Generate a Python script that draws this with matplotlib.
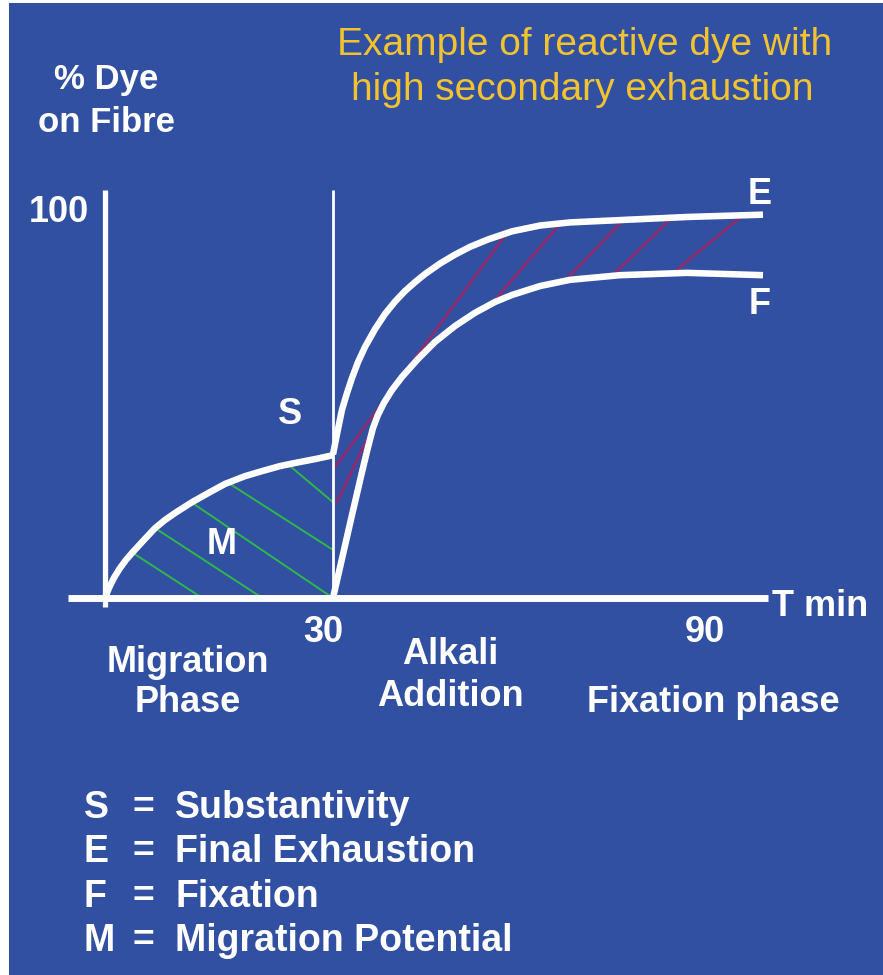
import numpy as np
import matplotlib
matplotlib.use('Agg')
import matplotlib.pyplot as plt
from matplotlib.patches import Rectangle

plt.rcParams['font.family'] = ['Liberation Sans', 'DejaVu Sans']

# time (min) vs % dye on fibre
mig_t = [0, 0.53, 1.18, 1.97, 2.76, 3.55, 5.0, 6.58, 7.89, 9.21, 11.45, 13.82,
         15.79, 18.42, 20.66, 23.03, 25.0, 27.63, 30.0]
mig_y = [0, 2.6, 5.2, 7.7, 9.8, 11.6, 14.7, 18.0, 20.1, 21.9, 24.7, 27.3,
         29.4, 31.4, 32.7, 34.0, 34.8, 35.8, 36.8]

exh_t = [30.0, 30.53, 31.18, 31.84, 32.5, 33.29, 34.21, 35.53, 36.84, 38.16, 39.47,
         40.79, 42.11, 44.08, 46.05, 48.03, 50.39, 53.55, 57.24, 61.18, 67.76,
         76.58, 86.58]
exh_y = [37.0, 42.3, 48.5, 52.8, 56.7, 60.8, 64.7, 69.3, 73.2, 76.4, 79.1,
         81.4, 83.5, 86.2, 88.5, 90.5, 92.4, 94.5, 96.0, 96.8, 97.4,
         98.2, 98.8]

fix_t = [30.0, 32.5, 33.82, 34.61, 35.26, 35.92, 36.71, 37.76, 39.08, 41.18, 43.42,
         46.05, 48.68, 51.32, 53.55, 57.24, 61.18, 67.76, 76.58, 86.58]
fix_y = [0, 21.4, 32.5, 38.9, 43.8, 47.2, 50.3, 53.6, 57.0, 61.6, 66.0,
         70.1, 73.5, 76.3, 78.1, 80.4, 82.0, 83.2, 83.8, 83.2]

# green hatching (migration potential M)
mh_t0 = [3.6, 6.6, 11.4, 16.2, 24.1]
mh_y0 = [11.7, 18.0, 24.6, 29.7, 34.4]
mh_t1 = [12.8, 20.7, 30.0, 30.0, 30.0]
mh_y1 = [0, 0, 0, 12.4, 24.7]

# purple hatching between E and F
fh_t0 = [30.3, 30.5, 50.9, 60.5, 66.7, 74.7]
fh_y0 = [33.8, 24.7, 75.9, 81.7, 83.0, 83.7]
fh_t1 = [52.9, 35.5, 59.9, 68.2, 74.6, 83.9]
fh_y1 = [94.1, 45.0, 96.5, 97.4, 98.0, 98.6]

legend_keys = ['S', 'E', 'F', 'M']
legend_names = ['Substantivity', 'Final Exhaustion', 'Fixation', 'Migration Potential']

W, H = 883, 975
bg = '#3150A2'
gold = '#F2C230'

fig = plt.figure(figsize=(W / 100, H / 100), dpi=100)
fig.patch.set_facecolor('white')
fig.patches.append(Rectangle((9 / W, 0), 1, 1 - 3 / H, transform=fig.transFigure,
                             facecolor=bg, edgecolor='none', zorder=-10))

ax = fig.add_axes([0, 0, 1, 1])
ax.set_axis_off()
ax.patch.set_alpha(0)
# origin at pixel (105, 598); 7.6 px per min, 3.88 px per %
ax.set_xlim(-105 / 7.6, (W - 105) / 7.6)
ax.set_ylim((598 - H) / 3.88, 598 / 3.88)

for a, b, c, d in zip(mh_t0, mh_t1, mh_y0, mh_y1):
    ax.plot([a, b], [c, d], color='#2DB84A', lw=1.4, zorder=2)
for a, b, c, d in zip(fh_t0, fh_t1, fh_y0, fh_y1):
    ax.plot([a, b], [c, d], color='#8E2C6E', lw=2.0, zorder=2)

# axes
ax.plot([0, 0], [-2.3, 105.2], color='white', lw=3.8, solid_capstyle='butt', zorder=3)
ax.plot([-4.9, 87.2], [0, 0], color='white', lw=5, solid_capstyle='butt', zorder=3)
ax.plot([30, 30], [0, 105.2], color='white', lw=2.0, solid_capstyle='butt', zorder=3)

for t, y in [(mig_t, mig_y), (exh_t, exh_y), (fix_t, fix_y)]:
    ax.plot(t, y, color='white', lw=4.7, solid_joinstyle='round',
            solid_capstyle='butt', zorder=4)

bold = dict(color='white', fontweight='bold')
fs = 26


def px(x, y):
    return x / W, 1 - y / H


fig.text(*px(585, 45), 'Example of reactive dye with', color=gold, fontsize=28,
         ha='center', va='center')
fig.text(*px(582, 90), 'high secondary exhaustion', color=gold, fontsize=28,
         ha='center', va='center')
fig.text(*px(106, 80), '% Dye', fontsize=25, ha='center', va='center', **bold)
fig.text(*px(106, 122), 'on Fibre', fontsize=25, ha='center', va='center', **bold)

fig.text(*px(89, 212), '100', fontsize=fs, ha='right', va='center', **bold)
fig.text(*px(760, 195), 'E', fontsize=fs, ha='center', va='center', **bold)
fig.text(*px(760, 305), 'F', fontsize=fs, ha='center', va='center', **bold)
fig.text(*px(290, 415), 'S', fontsize=fs, ha='center', va='center', **bold)
fig.text(*px(222, 545), 'M', fontsize=fs, ha='center', va='center', **bold)
fig.text(*px(323, 633), '30', fontsize=fs, ha='center', va='center', **bold)
fig.text(*px(705, 633), '90', fontsize=fs, ha='center', va='center', **bold)
fig.text(*px(772, 607), 'T min', fontsize=fs, ha='left', va='center', **bold)

fig.text(*px(188, 662), 'Migration', fontsize=fs, ha='center', va='center', **bold)
fig.text(*px(188, 703), 'Phase', fontsize=fs, ha='center', va='center', **bold)
fig.text(*px(450, 655), 'Alkali', fontsize=fs, ha='center', va='center', **bold)
fig.text(*px(450, 697), 'Addition', fontsize=fs, ha='center', va='center', **bold)
fig.text(*px(713, 703), 'Fixation phase', fontsize=fs, ha='center', va='center', **bold)

for i, (k, name) in enumerate(zip(legend_keys, legend_names)):
    yy = 808 + i * 44.3
    fig.text(*px(84, yy), k, fontsize=27, ha='left', va='center', **bold)
    fig.text(*px(133, yy), '=', fontsize=27, ha='left', va='center', **bold)
    fig.text(*px(175, yy), name, fontsize=27, ha='left', va='center', **bold)

fig.savefig('out.png', dpi=100, facecolor=fig.get_facecolor())
